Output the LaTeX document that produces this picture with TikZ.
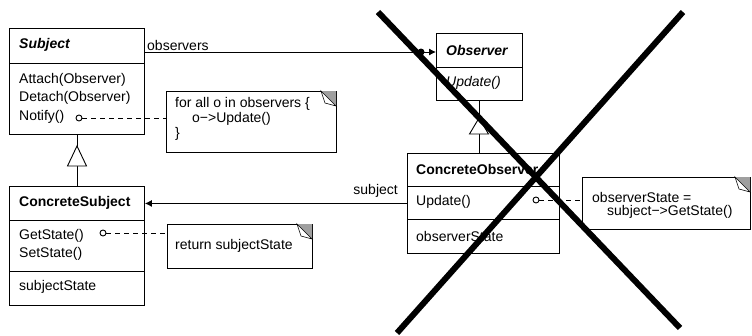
\documentclass[tikz,border=0pt]{standalone}
\usepackage{fontspec}
\setmainfont{Liberation Sans}
\usetikzlibrary{arrows.meta}
\begin{document}
\begin{tikzpicture}[x=1pt,y=-1pt,
  cls/.style={draw, line width=0.9pt, inner sep=0pt, anchor=north west},
  note/.style={draw, line width=0.9pt, inner sep=0pt, anchor=north west, fill=white},
  txt/.style={anchor=west, inner sep=0pt, font=\fontsize{14}{16}\selectfont},
  sep/.style={line width=0.9pt},
  assoc/.style={line width=0.9pt, -{Latex[length=7pt,width=7pt]}},
  dsh/.style={line width=0.9pt, dash pattern=on 5pt off 4pt},
  dot/.style={circle, draw, line width=0.9pt, inner sep=0pt, minimum size=6pt, fill=white},
  cross/.style={line width=6pt}]
\useasboundingbox (0,0) rectangle (752,335);

% ---- class boxes
\node[cls, minimum width=135pt, minimum height=106pt] (sub) at (9,28) {};
\draw[sep] (9,63) -- (144,63);
\node[cls, minimum width=135pt, minimum height=119pt] (csub) at (9,186) {};
\draw[sep] (9,220) -- (144,220);
\draw[sep] (9,271) -- (144,271);
\node[cls, minimum width=86pt, minimum height=67pt] (obs) at (436,33) {};
\draw[sep] (436,67) -- (522,67);
\node[cls, minimum width=152pt, minimum height=100pt] (co) at (407,153) {};
\draw[sep] (407,186) -- (559,186);
\draw[sep] (407,219) -- (559,219);

% ---- class texts
\node[txt] (subT) at (19,45) {\textbf{\textit{Subject}}};
\node[txt] (subA) at (19,80) {Attach(Observer)};
\node[txt] (subD) at (19,98) {Detach(Observer)};
\node[txt] (subN) at (19,117) {Notify()};
\node[txt] (csT) at (19,203) {\textbf{ConcreteSubject}};
\node[txt] (csG) at (19,236) {GetState()};
\node[txt] (csS) at (19,254) {SetState()};
\node[txt] (csV) at (19,287) {subjectState};
\node[txt] (obT) at (446,50) {\textbf{\textit{Observer}}};
\node[txt] (obU) at (446,83) {\textit{Update()}};
\node[txt] (coT) at (416,169) {\textbf{ConcreteObserver}};
\node[txt] (coU) at (416,202) {Update()};
\node[txt] (coV) at (416,236) {observerState};

% ---- notes
\node[note, minimum width=170pt, minimum height=61pt] (n1) at (166,91) {};
\fill[gray!75] (321,91) -- (336,91) -- (336,106) -- cycle;
\filldraw[fill=white, line width=0.6pt] (321,91) -- (325,103) -- (336,106) -- cycle;
\node[txt] (n1a) at (175,104) {for all o in observers \{};
\node[txt] (n1b) at (192,119) {o−>Update()};
\node[txt] (n1c) at (175,134) {\}};

\node[note, minimum width=145pt, minimum height=44pt] (n2) at (167,224) {};
\fill[gray!75] (297,224) -- (312,224) -- (312,239) -- cycle;
\filldraw[fill=white, line width=0.6pt] (297,224) -- (301,236) -- (312,239) -- cycle;
\node[txt] (n2a) at (175,246) {return subjectState};

\node[note, minimum width=168pt, minimum height=52pt] (n3) at (582,177) {};
\fill[gray!75] (735,177) -- (750,177) -- (750,192) -- cycle;
\filldraw[fill=white, line width=0.6pt] (735,177) -- (739,189) -- (750,192) -- cycle;
\node[txt] (n3a) at (592,197) {observerState =};
\node[txt] (n3b) at (607,212) {subject−>GetState()};

% ---- generalisations
\draw[sep] (sub.south) -- (csub.north);
\filldraw[fill=white, line width=0.9pt] (77,146) -- (86.5,166) -- (67.5,166) -- cycle;
\draw[sep] (obs.south) -- (obs.south |- co.north);
\filldraw[fill=white, line width=0.9pt] (479,118) -- (488.5,134) -- (469.5,134) -- cycle;

% ---- associations
\draw[assoc] ([yshift=-24pt]sub.north east) coordinate (oa) -- (oa -| obs.west) coordinate (ob);
\fill ([xshift=-15pt]ob) circle (3.5pt);
\node[txt] (obsL) at (147,45) {observers};
\draw[assoc] (co.west) -- (co.west -| csub.east);
\node[txt, anchor=east] (subjL) at (398,191) {subject};

% ---- note links
\node[dot] (d1) at (79,118) {};
\draw[dsh] (d1) -- (d1 -| n1.west);
\node[dot] (d2) at (103,233) {};
\draw[dsh] (d2) -- (d2 -| n2.west);
\node[dot] (d3) at (536,200) {};
\draw[dsh] (d3) -- (d3 -| n3.west);

% ---- big cross
\draw[cross] (378,12) -- (680,328);
\draw[cross] (683,12) -- (397,333);
\end{tikzpicture}
\end{document}
